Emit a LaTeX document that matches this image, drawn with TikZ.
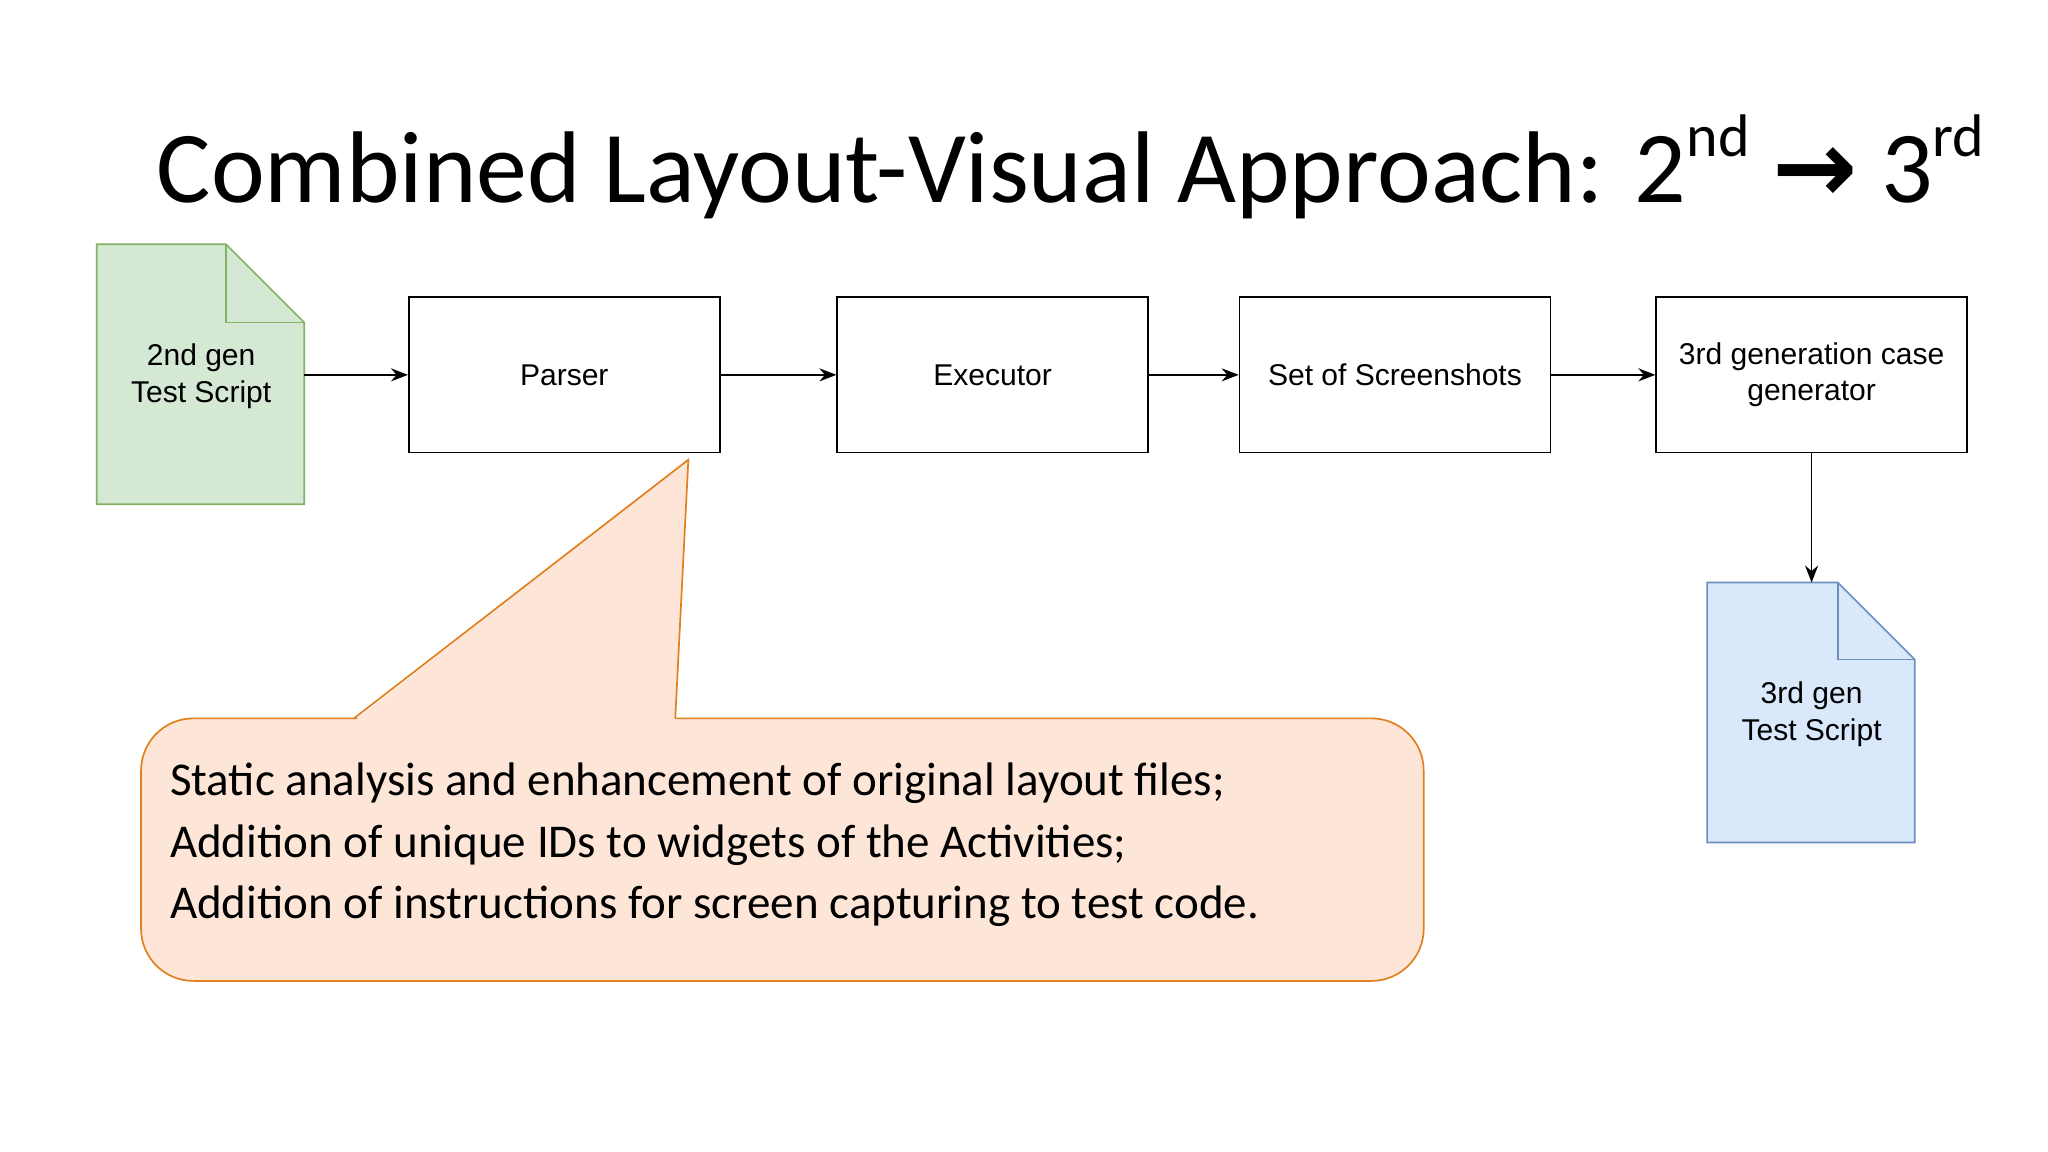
\documentclass[tikz,border=0pt]{standalone}
\usepackage{fontspec}
\setmainfont{Carlito}
\newfontfamily\helv{Liberation Sans}
\newfontfamily\djv{DejaVu Sans}
\usetikzlibrary{arrows.meta}
\definecolor{gfill}{HTML}{D5E8D4}\definecolor{gdraw}{HTML}{82B366}
\definecolor{bfill}{HTML}{DAE8FC}\definecolor{bdraw}{HTML}{6C8EBF}
\definecolor{ofill}{HTML}{FDE6D8}\definecolor{odraw}{HTML}{E2801F}
\begin{document}
\begin{tikzpicture}[x=1pt,y=-1pt,
  proc/.style={draw,line width=1.3pt,minimum width=238pt,minimum height=119pt,inner sep=0pt,align=center,font=\helv\fontsize{23}{28}\selectfont},
  lbl/.style={align=center,font=\helv\fontsize{23}{28}\selectfont},
  conn/.style={-{Stealth[length=13pt,width=10pt]},line width=1.3pt}]
\useasboundingbox (0,0) rectangle (1568,882);
\fill[white] (0,0) rectangle (1568,882);
% title
\node[anchor=base west,inner sep=0pt,font=\fontsize{78}{90}\selectfont] (title) at (120,155)
  {Combined Layout-Visual Approach: 2\raisebox{0.45em}{\fontsize{46}{50}\selectfont nd} {\djv\bfseries →} 3\raisebox{0.45em}{\fontsize{46}{50}\selectfont rd}};
% green doc
\draw[fill=gfill,draw=gdraw,line width=1.3pt] (74,187)--(173,187)--(233,247)--(233,386)--(74,386)--cycle;
\draw[draw=gdraw,line width=1.3pt] (173,187)--(173,247)--(233,247);
\node[lbl] (doc2) at (154,288) {2nd gen\\Test Script};
\coordinate (doc2r) at (233,287);
% boxes
\node[proc] (parser) at (432,287) {Parser};
\node[proc] (exec) at (760,287) {Executor};
\node[proc] (shots) at (1068,287) {Set of Screenshots};
\node[proc] (gen) at (1387,287) {3rd generation case\\generator};
% blue doc
\draw[fill=bfill,draw=bdraw,line width=1.3pt] (1307,446)--(1407,446)--(1466,505)--(1466,645)--(1307,645)--cycle;
\draw[draw=bdraw,line width=1.3pt] (1407,446)--(1407,505)--(1466,505);
\node[lbl] (doc3) at (1387,547) {3rd gen\\Test Script};
\coordinate (doc3t) at (1387,446);
% arrows
\draw[conn] (doc2r) -- (parser.west);
\draw[conn] (parser.east) -- (exec.west);
\draw[conn] (exec.east) -- (shots.west);
\draw[conn] (shots.east) -- (gen.west);
\draw[conn] (gen.south) -- (doc3t);
% callout
\draw[fill=ofill,draw=odraw,line width=1.3pt,rounded corners=40pt] (108,550) rectangle (1090,751);
\fill[ofill] (271,552)--(527,352)--(517,552)--cycle;
\draw[odraw,line width=1.3pt] (271,550)--(527,352)--(517,550);
\node[anchor=north west,align=left,inner sep=0pt,font=\fontsize{36}{47}\selectfont] (note) at (130,584)
 {Static analysis and enhancement of original layout files;\\
  Addition of unique IDs to widgets of the Activities;\\
  Addition of instructions for screen capturing to test code.};
\end{tikzpicture}
\end{document}
